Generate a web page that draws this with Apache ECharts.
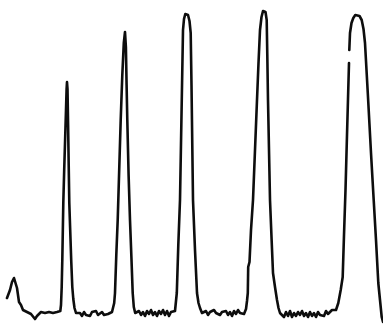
<!DOCTYPE html>
<html>
<head>
<meta charset="utf-8">
<script src="https://cdn.jsdelivr.net/npm/echarts@6/dist/echarts.min.js"></script>
<style>
  html, body { margin: 0; padding: 0; background: #fff; }
  #chart { width: 383px; height: 325px; }
</style>
</head>
<body>
<div id="chart"></div>
<script>
// trace: position along the record and signal height above the bottom edge
const bumpPos = [7, 8, 10, 12, 14, 15, 16, 17, 18, 19, 21, 23, 25, 27, 29, 31, 33, 35, 37, 39, 41, 43, 45, 47, 49, 51, 53, 55, 57, 59, 60.3];
const bumpSig = [27, 25, 35, 43, 47, 49, 45, 37, 30, 23, 20, 15, 17, 13, 15, 11, 13, 6, 9, 9, 13, 15, 12, 14, 13, 13, 12, 13, 13, 13, 14];

const peak1Pos = [61, 61.7, 62.3, 63.3, 64.2, 65.1, 66, 66.6, 67, 67.5, 68.1, 68.7, 69.3, 70.2, 71.2, 72.3, 73.3, 74.5, 76,
  78, 80, 82, 84, 86, 88, 90, 92, 94, 96, 98, 100, 102, 104, 106, 108, 110, 112];
const peak1Sig = [20, 38, 65, 122, 155, 185, 215, 236, 243, 236, 200, 160, 122, 95, 65, 38, 26, 17, 12,
  10, 12, 9, 13, 10, 12, 9, 13, 11, 14, 10, 12, 13, 10, 12, 11, 12, 13];

const peak2Pos = [113.3, 114.2, 115, 116.3, 117.7, 119.2, 120.7, 122.3, 123.8, 125, 125.9, 126.6, 127.3, 128.6, 130, 131.4, 132.7, 133.8, 135.2,
  137, 139, 141, 143, 145, 147, 149, 151, 153, 155, 157, 159, 161, 163, 165, 167, 169, 171, 173, 175];
const peak2Sig = [15, 22, 32, 70, 105, 155, 205, 250, 282, 293, 278, 240, 205, 150, 105, 68, 32, 18, 12,
  11, 14, 10, 13, 9, 14, 11, 15, 10, 13, 9, 14, 11, 15, 10, 14, 9, 13, 11, 14];

const peak3Pos = [176.5, 176.8, 178.3, 180, 181.5, 183, 184, 185.3, 186.7, 188, 189.5, 190.7, 191.5, 193, 195, 197, 198.5, 200, 202,
  204, 206, 208, 210, 212, 214, 216, 218, 220, 222, 224, 226, 228, 230, 232, 234, 236, 238, 240, 242, 244, 246];
const peak3Sig = [16, 32, 80, 125, 210, 295, 306, 311, 312, 310, 304, 292, 240, 125, 75, 32, 22, 17, 12,
  11, 14, 10, 13, 11, 15, 12, 14, 10, 13, 11, 14, 10, 13, 9, 14, 11, 15, 12, 14, 11, 16];

const peak4Pos = [247, 247.8, 248.2, 249.5, 251, 253, 255, 257, 258.5, 260, 261.5, 263, 264.3, 265.5, 266.7, 267.3, 268, 269, 270, 271.5, 273, 275, 277, 278.5, 280,
  282, 284, 286, 288, 290, 292, 294, 296, 298, 300, 302, 304, 306, 308, 310, 312, 314, 316, 318, 320, 322, 324, 326, 328, 330, 332, 334];
const peak4Sig = [24, 32, 58, 63, 95, 125, 175, 225, 262, 295, 308, 314, 315, 313, 305, 270, 225, 175, 125, 88, 52, 38, 25, 17, 12,
  12, 8, 13, 9, 14, 8, 12, 9, 13, 10, 14, 9, 12, 8, 13, 9, 12, 8, 13, 10, 12, 9, 14, 11, 13, 15, 17];

// null = the short break in the pen line on the left flank of the last peak
const peak5Pos = [336, 338.3, 340.7, 342.7, 344, 345.5, 347, 349, 349.15, 349.3, 350, 351.5, 353.3, 355.3, 357.3, 359.5, 361.7, 363.5, 365, 368, 371, 373.7, 376, 378.3, 380, 381.7, 383];
const peak5Sig = [15, 22, 35, 48, 90, 135, 190, 262, null, 275, 292, 302, 307, 310, 311, 309, 305, 296, 282, 228, 172, 125, 85, 42, 25, 8, 3];

const tracePos = [].concat(bumpPos, peak1Pos, peak2Pos, peak3Pos, peak4Pos, peak5Pos);
const traceSig = [].concat(bumpSig, peak1Sig, peak2Sig, peak3Sig, peak4Sig, peak5Sig);

const chart = echarts.init(document.getElementById('chart'));

chart.setOption({
  backgroundColor: '#ffffff',
  animation: false,
  grid: { left: 0, right: 0, top: 0, bottom: 0 },
  xAxis: { type: 'value', min: 0, max: 383, show: false },
  yAxis: { type: 'value', min: 0, max: 325, show: false },
  series: [
    {
      type: 'line',
      data: tracePos.map((x, i) => [x, traceSig[i] == null ? '-' : traceSig[i]]),
      showSymbol: false,
      connectNulls: false,
      lineStyle: { color: '#0d0d0d', width: 2.6, cap: 'round', join: 'round' },
    },
  ],
});
</script>
</body>
</html>
